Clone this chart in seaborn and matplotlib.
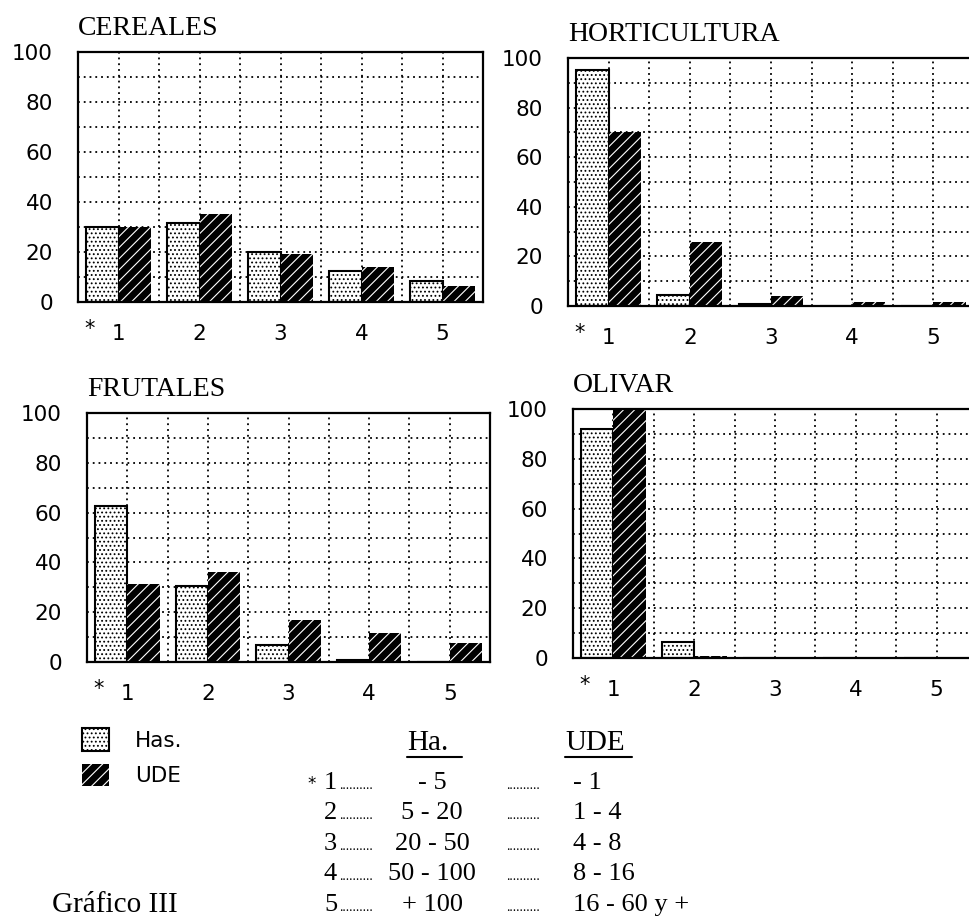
import matplotlib
matplotlib.use("Agg")
from matplotlib import pyplot as plt
from matplotlib.patches import Patch
from matplotlib.lines import Line2D
from matplotlib.ticker import MultipleLocator, FixedLocator
import seaborn as sns
import pandas as pd

# datos (porcentajes)
grupos = ["1", "2", "3", "4", "5"]
series = ["Has.", "UDE"]

cereales_has = [30, 31.5, 20, 12.5, 8.5]
cereales_ude = [30, 35, 19, 14, 6.5]
horticultura_has = [95, 4.5, 1, 0, 0]
horticultura_ude = [70, 26, 4, 1.5, 1.5]
frutales_has = [62.5, 30.5, 7, 1, 0]
frutales_ude = [31.5, 36, 17, 11.5, 7.5]
olivar_has = [92, 6.5, 0, 0, 0]
olivar_ude = [100, 0.8, 0, 0, 0]

# tabla de estratos
estratos = ["1", "2", "3", "4", "5"]
estratos_ha = ["- 5", "5 - 20", "20 - 50", "50 - 100", "+ 100"]
estratos_ude = ["- 1", "1 - 4", "4 - 8", "8 - 16", "16 - 60 y +"]

sns.set_style("white", rc={"axes.edgecolor": "black", "xtick.color": "black",
                           "ytick.color": "black", "text.color": "black",
                           "axes.labelcolor": "black"})
plt.rcParams["font.family"] = ["DejaVu Sans"]
plt.rcParams["hatch.linewidth"] = 0.8

W, H = 969, 921
SERIF = "Liberation Serif"


def rect(l, t, r, b):
    return [l / W, 1 - b / H, (r - l) / W, (b - t) / H]


def px(x, y):
    return x / W, 1 - y / H


def panel(ax, titulo, has, ude):
    df = pd.DataFrame({"grupo": grupos * 2,
                       "serie": [series[0]] * 5 + [series[1]] * 5,
                       "valor": has + ude})
    sns.barplot(data=df, x="grupo", y="valor", hue="serie", palette=["white", "black"],
                saturation=1, width=0.8, errorbar=None, legend=False, ax=ax)
    for bar in ax.containers[0]:
        bar.set_facecolor("white")
        bar.set_edgecolor("black")
        bar.set_hatch("....")
        bar.set_linewidth(1.5)
    for bar in ax.containers[1]:
        bar.set_facecolor("black")
        bar.set_edgecolor("white")
        bar.set_hatch("///")
        bar.set_linewidth(0)

    ax.set_xlim(-0.5, 4.5)
    ax.set_ylim(0, 100)
    ax.set_xlabel("")
    ax.set_ylabel("")
    ax.yaxis.set_major_locator(MultipleLocator(20))
    ax.yaxis.set_minor_locator(MultipleLocator(10))
    ax.xaxis.set_minor_locator(FixedLocator([-0.5, 0.5, 1.5, 2.5, 3.5, 4.5]))
    ax.tick_params(axis="x", which="major", length=0, pad=16, labelsize=15.5)
    ax.tick_params(axis="x", which="minor", length=8, width=1.5, direction="inout")
    ax.tick_params(axis="y", which="major", length=8, width=1.5, direction="out",
                   pad=10, labelsize=15.5)
    ax.tick_params(axis="y", which="minor", length=6, width=1.5, direction="out")
    ax.grid(True, which="both", color="black", linestyle=(0, (1, 2.2)), linewidth=1.3)
    ax.set_axisbelow(True)
    for s in ax.spines.values():
        s.set_visible(True)
        s.set_color("black")
        s.set_linewidth(1.6)
    ax.set_title(titulo, loc="left", family=SERIF, fontsize=20, pad=12)
    ax.annotate("*", xy=(0, 0), xycoords="axes fraction", xytext=(6, -17),
                textcoords="offset pixels", ha="left", va="top", fontsize=15)


fig = plt.figure(figsize=(W / 100, H / 100), dpi=100)

paneles = [
    ("CEREALES", cereales_has, cereales_ude, rect(78, 52, 483, 302)),
    ("HORTICULTURA", horticultura_has, horticultura_ude, rect(568, 58, 974, 306)),
    ("FRUTALES", frutales_has, frutales_ude, rect(87, 413, 490, 662)),
    ("OLIVAR", olivar_has, olivar_ude, rect(573, 409, 977, 658)),
]
for titulo, has, ude, pos in paneles:
    ax = fig.add_axes(pos)
    panel(ax, titulo, has, ude)

# leyenda de tramas
handles = [Patch(facecolor="white", edgecolor="black", hatch="....", linewidth=1.5, label="Has."),
           Patch(facecolor="black", edgecolor="white", hatch="///", linewidth=0, label="UDE")]
fig.legend(handles=handles, loc="upper left", bbox_to_anchor=px(82, 728), frameon=False,
           fontsize=15.5, handlelength=1.25, handleheight=1.25, handletextpad=1.2,
           labelspacing=0.6, borderaxespad=0, borderpad=0)

# cabeceras de la tabla
fig.text(*px(407, 750), "Ha.", family=SERIF, fontsize=21, va="baseline")
fig.text(*px(565, 750), "UDE", family=SERIF, fontsize=21, va="baseline")
for x1, x2 in [(407, 462), (565, 632)]:
    fig.add_artist(Line2D([x1 / W, x2 / W], [1 - 757 / H] * 2, color="black",
                          linewidth=1.5, transform=fig.transFigure))

bases = [789, 819, 850, 880, 911]
for i, y in enumerate(bases):
    fig.text(*px(337, y), estratos[i], family=SERIF, fontsize=19, ha="right", va="baseline")
    fig.text(*px(339, y), "." * 10, family=SERIF, fontsize=10, va="baseline")
    fig.text(*px(432, y), estratos_ha[i], family=SERIF, fontsize=19, ha="center", va="baseline")
    fig.text(*px(506, y), "." * 10, family=SERIF, fontsize=10, va="baseline")
    fig.text(*px(573, y), estratos_ude[i], family=SERIF, fontsize=19, va="baseline")
fig.text(*px(307, 789), "*", fontsize=12, va="baseline")

fig.text(*px(52, 912), "Gráfico III", family=SERIF, fontsize=21, va="baseline")

fig.savefig("out.png", dpi=100)
